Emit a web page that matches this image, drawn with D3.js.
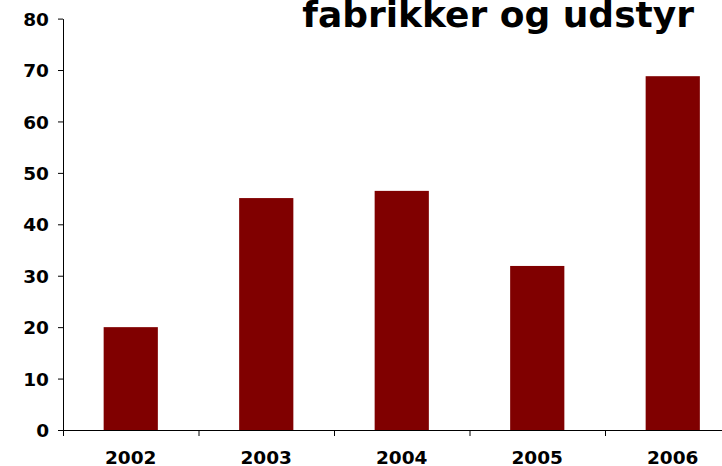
<!DOCTYPE html>
<html>
<head>
<meta charset="utf-8">
<script src="https://cdn.jsdelivr.net/npm/d3@7"></script>
<style>
  body { margin: 0; background: #fff; overflow: hidden; }
  svg { display: block; }
  .axis text { font-family: "DejaVu Sans", Verdana, sans-serif; font-weight: bold; font-size: 18.5px; fill: #000; }
  .axis path, .axis line { stroke: #000; }
</style>
</head>
<body>
<div id="chart"></div>
<script>
// data
var years = ['2002', '2003', '2004', '2005', '2006'];
var values = [20.0, 45.1, 46.5, 31.9, 68.8];
var yTicks = [0, 10, 20, 30, 40, 50, 60, 70, 80];
var title = 'fabrikker og udstyr';

var width = 722;
var height = 466;
var plotLeft = 63;
var plotTop = 18.6;
var plotBottom = 430;
var catWidth = 135.5;

var svg = d3.select('#chart')
    .append('svg')
    .attr('width', width)
    .attr('height', height);

var x = d3.scaleBand()
    .domain(years)
    .range([plotLeft, plotLeft + catWidth * years.length])
    .paddingInner(0.6)
    .paddingOuter(0.3);

var xEdge = d3.scaleLinear()
    .domain([0, years.length])
    .range([plotLeft, plotLeft + catWidth * years.length]);

var y = d3.scaleLinear()
    .domain([0, 80])
    .range([plotBottom, plotTop]);

// bars
svg.append('g')
    .selectAll('rect')
    .data(values)
    .enter()
    .append('rect')
    .attr('x', function (d, i) { return x(years[i]); })
    .attr('y', function (d) { return y(d); })
    .attr('width', x.bandwidth())
    .attr('height', function (d) { return y(0) - y(d); })
    .attr('fill', '#800000');

// y axis
svg.append('g')
    .attr('class', 'axis')
    .attr('transform', 'translate(' + plotLeft + ',0)')
    .call(d3.axisLeft(y).tickValues(yTicks).tickSize(5).tickSizeOuter(0).tickPadding(9))
    .call(function (g) { g.selectAll('text').attr('dy', '0.36em'); });

// x axis line and boundary ticks
svg.append('g')
    .attr('class', 'axis')
    .attr('transform', 'translate(0,' + plotBottom + ')')
    .call(d3.axisBottom(xEdge).ticks(years.length).tickSize(6).tickSizeOuter(0).tickFormat(''));

// x labels
svg.append('g')
    .attr('class', 'axis')
    .attr('transform', 'translate(0,' + plotBottom + ')')
    .call(d3.axisBottom(x).tickSize(0).tickPadding(21))
    .call(function (g) { g.select('.domain').remove(); });

// title
svg.append('text')
    .attr('x', 694)
    .attr('y', 27)
    .attr('text-anchor', 'end')
    .style('font-family', '"DejaVu Sans", Verdana, sans-serif')
    .style('font-weight', 'bold')
    .style('font-size', '36px')
    .text(title);
</script>
</body>
</html>
